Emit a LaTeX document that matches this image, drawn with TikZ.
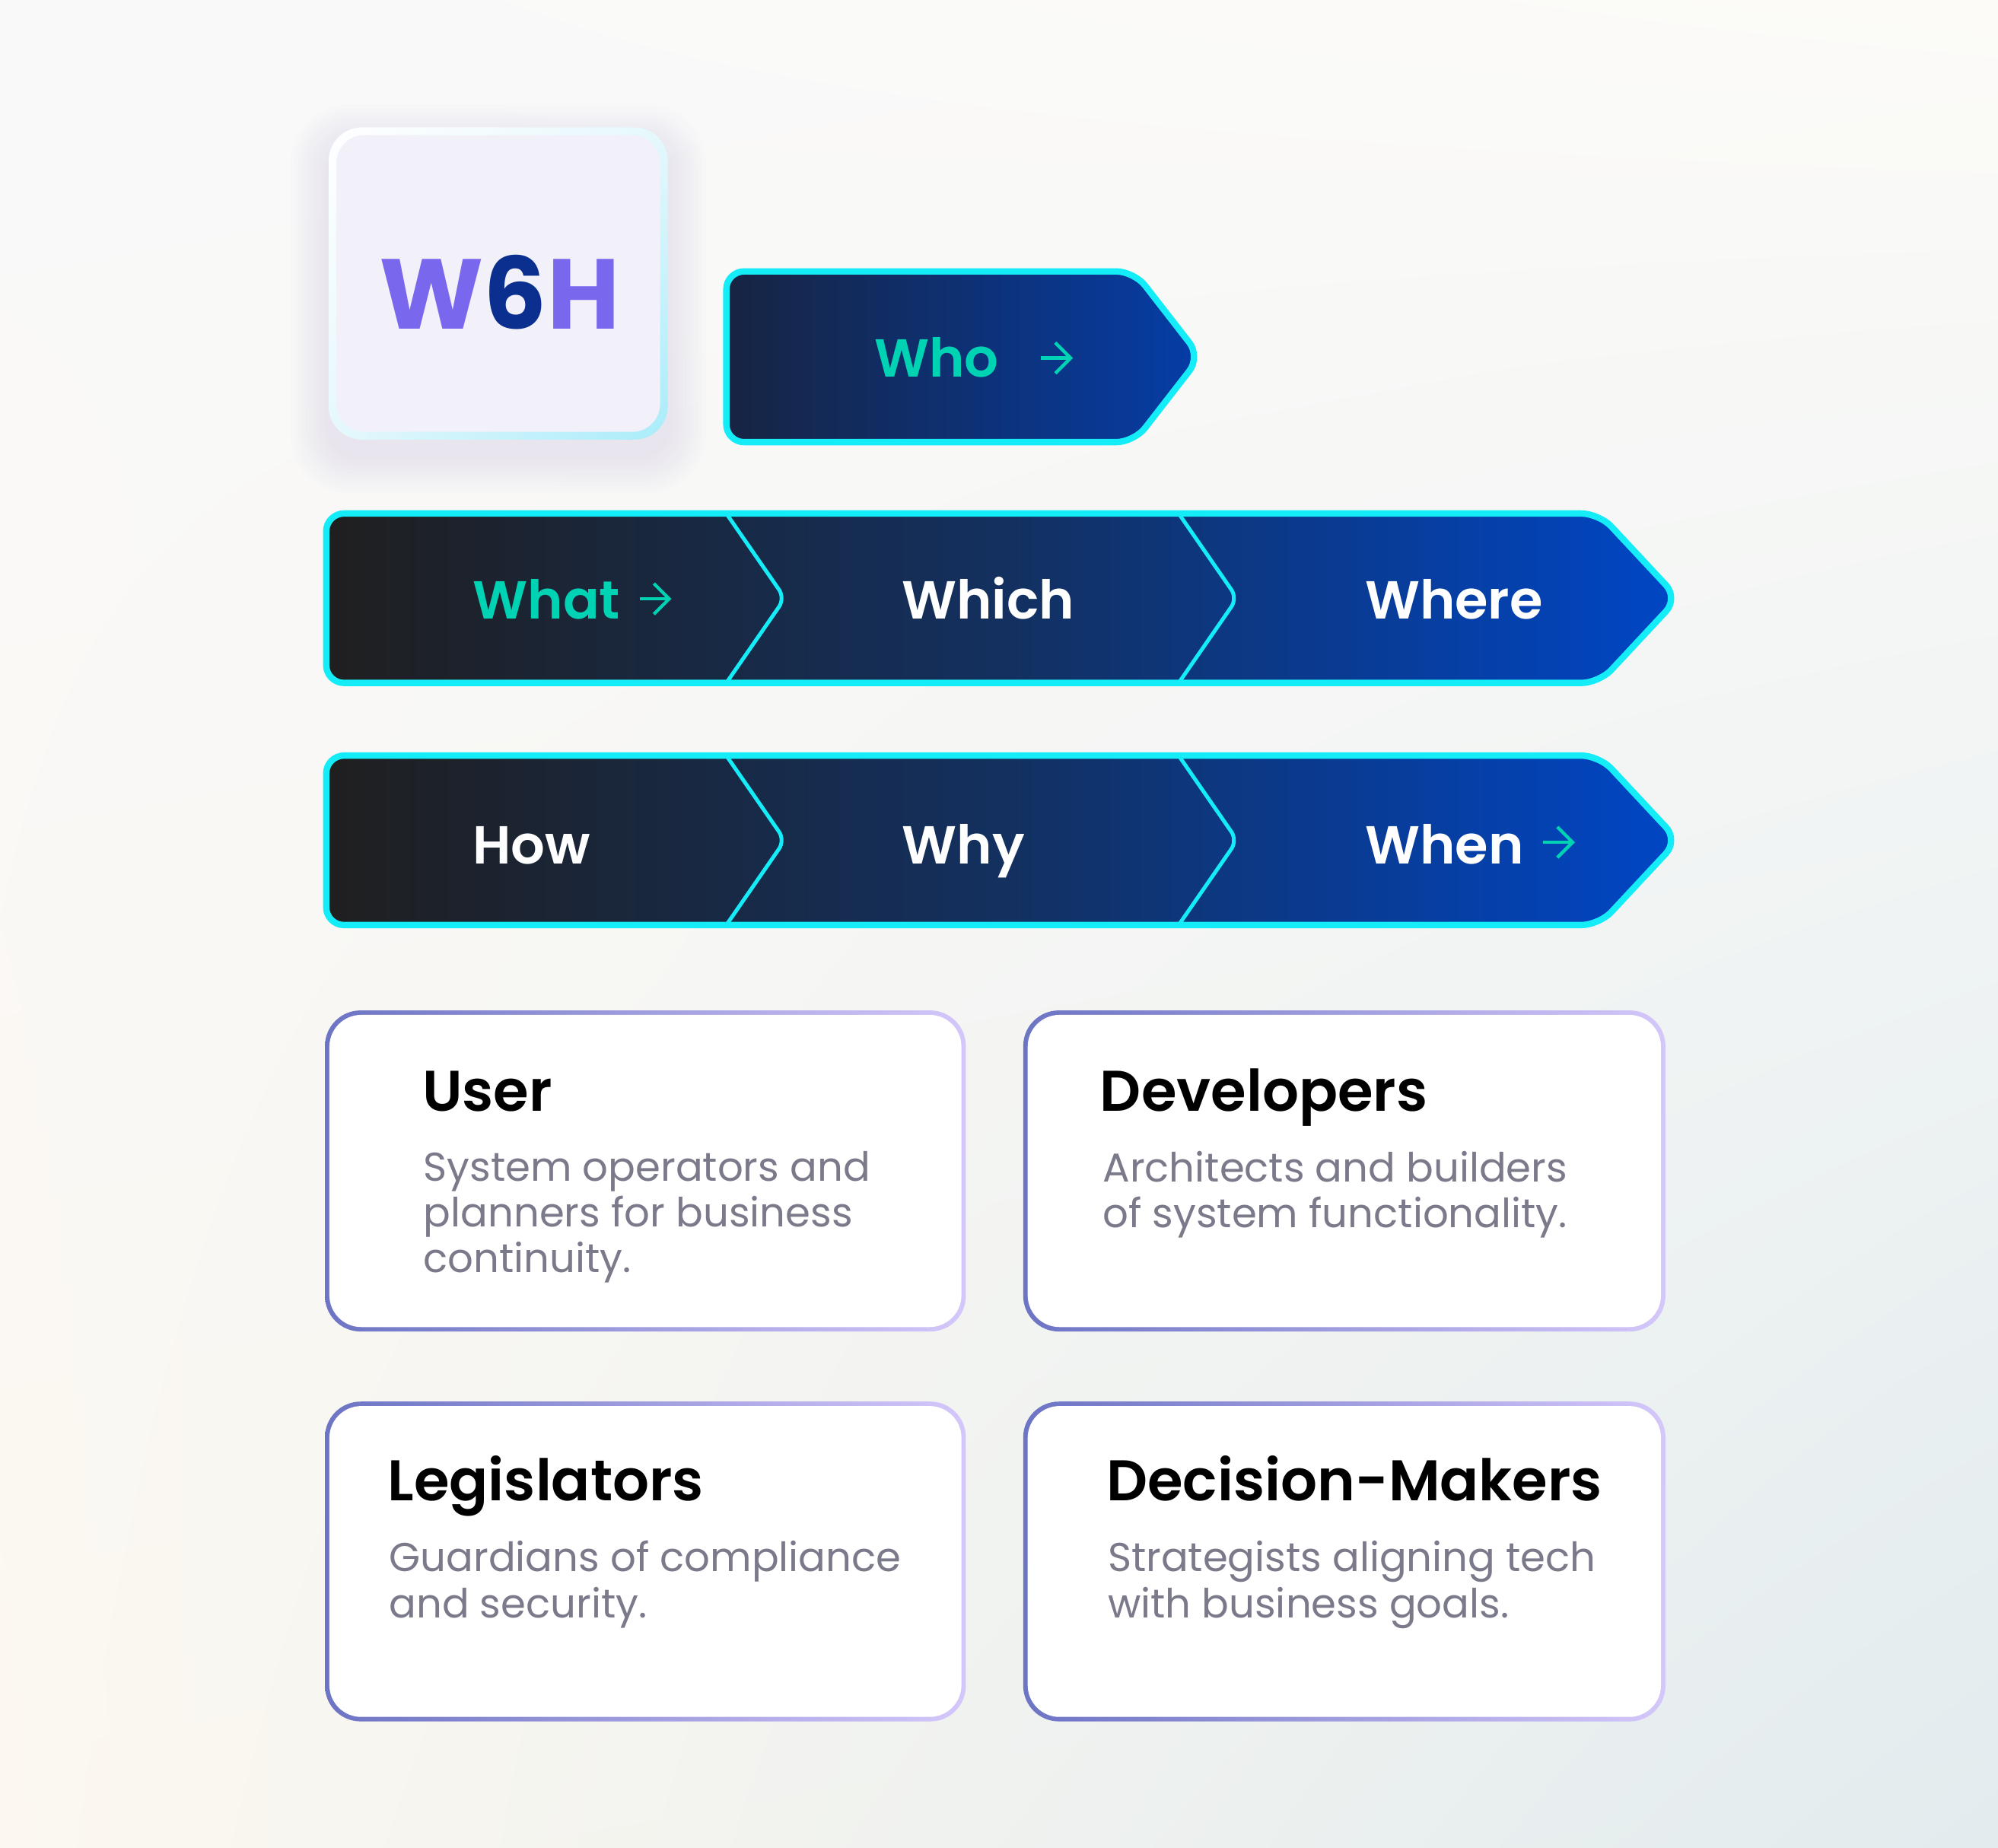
\documentclass[tikz,border=0pt]{standalone}
\usepackage{fontspec}
\setmainfont{Poppins}[BoldFont={Poppins SemiBold}]
\newfontfamily\heavyfont{Poppins Bold}
\usetikzlibrary{arrows.meta,shadings}
\newcommand\dscfont{\fontsize{15.8}{18}\selectfont\lineskiplimit=-10pt\relax}

\definecolor{bgul}{HTML}{F9F9FA}
\definecolor{bgur}{HTML}{FCFBF8}
\definecolor{bgll}{HTML}{FCF8F0}
\definecolor{bglr}{HTML}{E2EBEE}
\definecolor{rimcyan}{HTML}{14ECF8}
\definecolor{rowL}{HTML}{1F1F1F}
\definecolor{rowM}{HTML}{13305F}
\definecolor{rowR}{HTML}{0046C6}
\definecolor{whoL}{HTML}{172442}
\definecolor{whoR}{HTML}{053DA6}
\definecolor{tealw}{HTML}{00D2B4}
\definecolor{cardL}{HTML}{6C74C4}
\definecolor{cardR}{HTML}{D4C7FA}
\definecolor{dscgray}{HTML}{7A7A8A}
\definecolor{boxfill}{HTML}{F2F0F8}
\definecolor{boxrimA}{HTML}{E6F8FC}
\definecolor{boxrim}{HTML}{A9ECFA}
\definecolor{shad}{HTML}{C4BCEE}
\definecolor{wpurple}{HTML}{7967EE}
\definecolor{wnavy}{HTML}{0A2F8F}

\begin{document}
\begin{tikzpicture}
[x=0.5pt,y=-0.5pt]
\tikzset{lbl/.style={anchor=base,inner sep=0,text=white,font=\bfseries\fontsize{21}{21}\selectfont},
  ttl/.style={anchor=base west,inner sep=0,text=black,font=\bfseries\fontsize{22.5}{22.5}\selectfont},
  dsc/.style={anchor=north west,inner sep=0,align=left,text=dscgray,font=\dscfont},
  nib/.style={line width=1.3pt,tealw,-{Straight Barb[length=6pt,width=12pt]}},
  rim/.style={draw=rimcyan,line width=2.5pt,rounded corners=7},
  cut/.style={draw=rimcyan,line width=1.5pt,rounded corners=4}}
\useasboundingbox (0,0) rectangle (1568,1450);
\shade[upper left=bgul,upper right=bgur,lower left=bgll,lower right=bglr] (0,0) rectangle (1568,1450);

% W6H tile
\foreach \i in {1,...,10}
	\fill[shad,opacity=0.025,rounded corners=13+\i] (258-\i*3,100-\i*3+12) rectangle (524+\i*3,345+\i*3+12);
\shade[upper left=white,upper right=boxrimA,lower left=boxrimA,lower right=boxrim,rounded corners=13] (258,100) rectangle (524,345);
\fill[boxfill,rounded corners=11] (264,106) rectangle (518,339);
\node[anchor=base,inner sep=0,font=\heavyfont\fontsize{39}{39}\selectfont] (w6h) at (392,258)
	{\textcolor{wpurple}{W}\textcolor{wnavy}{6}\textcolor{wpurple}{H}};

% who
\shadedraw[rim,left color=whoL,right color=whoR] (570,213) -- (890,213) -- (942,280) -- (890,347) -- (570,347) -- cycle;
\node[lbl,text=tealw] (who) at (735,296) {Who};
\coordinate (whoA) at (817,281);
\coordinate (whoB) at (842,281);

% rows
\foreach \t in {403,593}{
	\shadedraw[rim,left color=rowL,right color=rowR,middle color=rowM] (256,\t) -- (1255,\t) -- (1317,\t+66.5) -- (1255,\t+133) -- (256,\t+133) -- cycle;
	\draw[cut] (570,\t) -- (616,\t+66.5) -- (570,\t+133);
	\draw[cut] (925,\t) -- (971,\t+66.5) -- (925,\t+133);
}
\node[lbl,text=tealw] (what) at (429,486) {What};
\node[lbl] (which) at (775.5,486) {Which};
\node[lbl] (where) at (1141,486) {Where};
\node[lbl] (how) at (417,678) {How};
\node[lbl] (why) at (756,678) {Why};
\node[lbl] (when) at (1133.5,678) {When};
\coordinate (whatA) at (502,470);
\coordinate (whatB) at (527,470);
\coordinate (whenA) at (1211,661);
\coordinate (whenB) at (1236,661);

\foreach \from/\to in {whoA/whoB,whatA/whatB,whenA/whenB}
	\draw[nib] (\from) -- (\to);

% cards
\foreach \a/\b/\c/\d in {255/793/758/1045,803/793/1307/1045,255/1100/758/1351,803/1100/1307/1351}{
	\shade[left color=cardL,right color=cardR,rounded corners=14] (\a,\b) rectangle (\c,\d);
	\fill[white,rounded corners=12.5] (\a+3.5,\b+3.5) rectangle (\c-3.5,\d-3.5);
}
\node[ttl] (user) at (331,872) {User};
\node[dsc] (userD) at (332,903) {System operators and\\planners for business\\continuity.};
\node[ttl] (devs) at (863,872) {Developers};
\node[dsc] (devsD) at (865,903) {Architects and builders\\of system functionality.};
\node[ttl] (legis) at (304,1178) {Legislators};
\node[dsc] (legisD) at (305,1209) {Guardians of compliance\\and security.};
\node[ttl] (deci) at (868,1178) {Decision-Makers};
\node[dsc] (deciD) at (869,1209) {Strategists aligning tech\\with business goals.};

\end{tikzpicture}
\end{document}
